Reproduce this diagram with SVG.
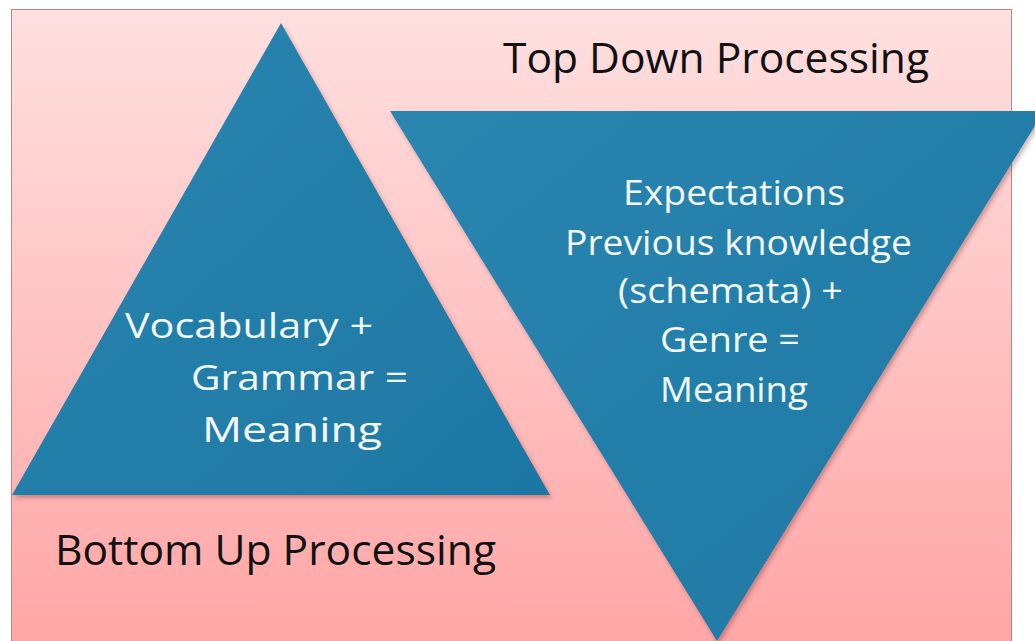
<svg xmlns="http://www.w3.org/2000/svg" width="1035" height="641" viewBox="0 0 1035 641">
  <defs>
    <linearGradient id="bg" x1="0" y1="0" x2="0" y2="1">
      <stop offset="0" stop-color="#ffe0e0"/>
      <stop offset="1" stop-color="#ffa5a5"/>
    </linearGradient>
    <linearGradient id="tri" x1="0" y1="0" x2="1" y2="1">
      <stop offset="0" stop-color="#2a86b0"/>
      <stop offset="1" stop-color="#1d77a3"/>
    </linearGradient>
    <filter id="sh" x="-10%" y="-10%" width="120%" height="120%">
      <feDropShadow dx="2" dy="3" stdDeviation="2" flood-color="#6a2a2a" flood-opacity="0.35"/>
    </filter>
    <style>
      .tri { fill: url(#tri); filter: url(#sh); }
      .head { font-family: "Open Sans", "Liberation Sans", sans-serif; font-size: 42px; fill: #111; }
      .body { font-family: "Open Sans", "Liberation Sans", sans-serif; font-size: 35px; fill: #f2f9fb; }
    </style>
  </defs>
  <rect x="0" y="0" width="1035" height="641" fill="#ffffff"/>
  <rect id="background" x="11.5" y="9.5" width="1000" height="640" fill="url(#bg)" stroke="#b98787" stroke-width="1"/>

  <g id="bottom-up-triangle">
    <polygon class="tri" points="281,23 550,495 12,495"/>
    <text class="body" x="125" y="338" textLength="248" lengthAdjust="spacingAndGlyphs">Vocabulary +</text>
    <text class="body" x="191" y="390" textLength="217" lengthAdjust="spacingAndGlyphs">Grammar =</text>
    <text class="body" x="202" y="442" textLength="180" lengthAdjust="spacingAndGlyphs">Meaning</text>
  </g>

  <g id="top-down-triangle">
    <polygon class="tri" points="390,111 1044,111 717,641"/>
    <text class="body" x="623" y="205" textLength="222" lengthAdjust="spacingAndGlyphs">Expectations</text>
    <text class="body" x="565" y="255" textLength="347" lengthAdjust="spacingAndGlyphs">Previous knowledge</text>
    <text class="body" x="618" y="303" textLength="225" lengthAdjust="spacingAndGlyphs">(schemata) +</text>
    <text class="body" x="660" y="352" textLength="140" lengthAdjust="spacingAndGlyphs">Genre =</text>
    <text class="body" x="660" y="402" textLength="148" lengthAdjust="spacingAndGlyphs">Meaning</text>
  </g>

  <g id="top-down-label">
    <text class="head" x="503" y="73" textLength="426" lengthAdjust="spacingAndGlyphs">Top Down Processing</text>
  </g>
  <g id="bottom-up-label">
    <text class="head" x="55" y="565" textLength="441" lengthAdjust="spacingAndGlyphs">Bottom Up Processing</text>
  </g>
  <g id="connectors"/>
</svg>
